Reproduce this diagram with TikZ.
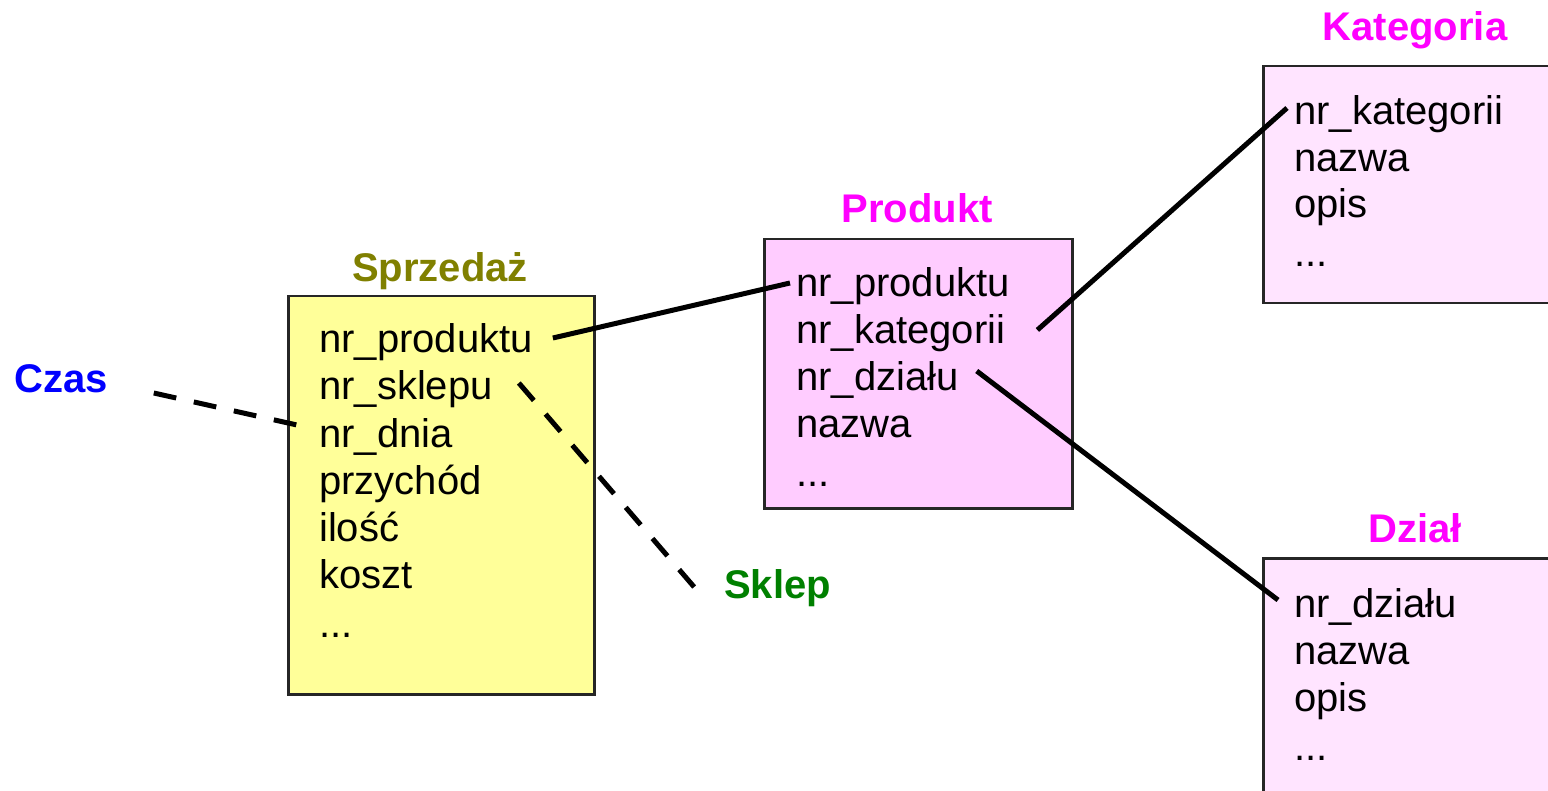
\documentclass[tikz,border=0pt]{standalone}
\usepackage{fontspec}
\setmainfont{Liberation Sans}
\definecolor{sellyellow}{HTML}{FFFF99}
\definecolor{prodpink}{HTML}{FFCCFF}
\definecolor{lightpink}{HTML}{FFE4FF}
\definecolor{olivetitle}{HTML}{808000}
\definecolor{magentatitle}{HTML}{FF00FF}
\definecolor{dimblue}{HTML}{0000FF}
\definecolor{dimgreen}{HTML}{008000}
\begin{document}
\begin{tikzpicture}[x=1pt,y=-1pt,
  tablebox/.style={draw=black!85,line width=2.5pt,anchor=north west,inner sep=0pt},
  field/.style={anchor=base west,inner sep=0pt,font=\fontsize{40}{47}\selectfont},
  title/.style={anchor=base,inner sep=0pt,font=\fontsize{40}{47}\selectfont\bfseries},
  dimlabel/.style={anchor=base west,inner sep=0pt,font=\fontsize{40}{47}\selectfont\bfseries},
  fklink/.style={line width=5pt},
  dimlink/.style={line width=5pt,dash pattern=on 23pt off 18pt}]
\useasboundingbox (0,0) rectangle (1548,791);
\clip (0,0) rectangle (1548,791);

% fact table
\node[tablebox,fill=sellyellow,minimum width=306pt,minimum height=398pt] (sp) at (287,295) {};
\node[title,text=olivetitle] (sptitle) at (440,282) {Sprzedaż};
\node[field] (sp1) at (319,353) {nr\_produktu};
\node[field] (sp2) at (319,400) {nr\_sklepu};
\node[field] (sp3) at (319,447) {nr\_dnia};
\node[field] (sp4) at (319,494) {przychód};
\node[field] (sp5) at (319,541) {ilość};
\node[field] (sp6) at (319,588) {koszt};
\node[field] (sp7) at (319,637) {...};

% product dimension
\node[tablebox,fill=prodpink,minimum width=308pt,minimum height=269pt] (pr) at (763,238) {};
\node[title,text=magentatitle] (prtitle) at (917,223) {Produkt};
\node[field] (pr1) at (796,297) {nr\_produktu};
\node[field] (pr2) at (796,344) {nr\_kategorii};
\node[field] (pr3) at (796,391) {nr\_działu};
\node[field] (pr4) at (796,438) {nazwa};
\node[field] (pr5) at (796,486) {...};

% category
\node[tablebox,fill=lightpink,minimum width=310pt,minimum height=237pt] (ka) at (1262,65) {};
\node[title,text=magentatitle] (katitle) at (1415,41) {Kategoria};
\node[field] (ka1) at (1294,125) {nr\_kategorii};
\node[field] (ka2) at (1294,172) {nazwa};
\node[field] (ka3) at (1294,218) {opis};
\node[field] (ka4) at (1294,267) {...};

% department
\node[tablebox,fill=lightpink,minimum width=310pt,minimum height=260pt] (dz) at (1262,557) {};
\node[title,text=magentatitle] (dztitle) at (1415,542) {Dział};
\node[field] (dz1) at (1294,617) {nr\_działu};
\node[field] (dz2) at (1294,664) {nazwa};
\node[field] (dz3) at (1294,711) {opis};
\node[field] (dz4) at (1294,760) {...};

% other dimensions, shown by name only
\node[dimlabel,text=dimblue] (czas) at (14,393) {Czas};
\node[dimlabel,text=dimgreen] (sklep) at (724,598) {Sklep};

% key links
\draw[fklink] ([shift={(20,-15)}]sp1.base east) -- ([shift={(-6,-14)}]pr1.base west);
\draw[fklink] ([shift={(32,-14)}]pr2.base east) -- ([shift={(-7,-17)}]ka1.base west);
\draw[fklink] ([shift={(18,-20)}]pr3.base east) -- ([shift={(-16,-17)}]dz1.base west);
\draw[dimlink] ([shift={(46,0)}]czas.base east) -- ([shift={(-22,-22)}]sp3.base west);
\draw[dimlink] ([shift={(26,-17)}]sp2.base east) -- ([shift={(-29,-10)}]sklep.base west);
\end{tikzpicture}
\end{document}
